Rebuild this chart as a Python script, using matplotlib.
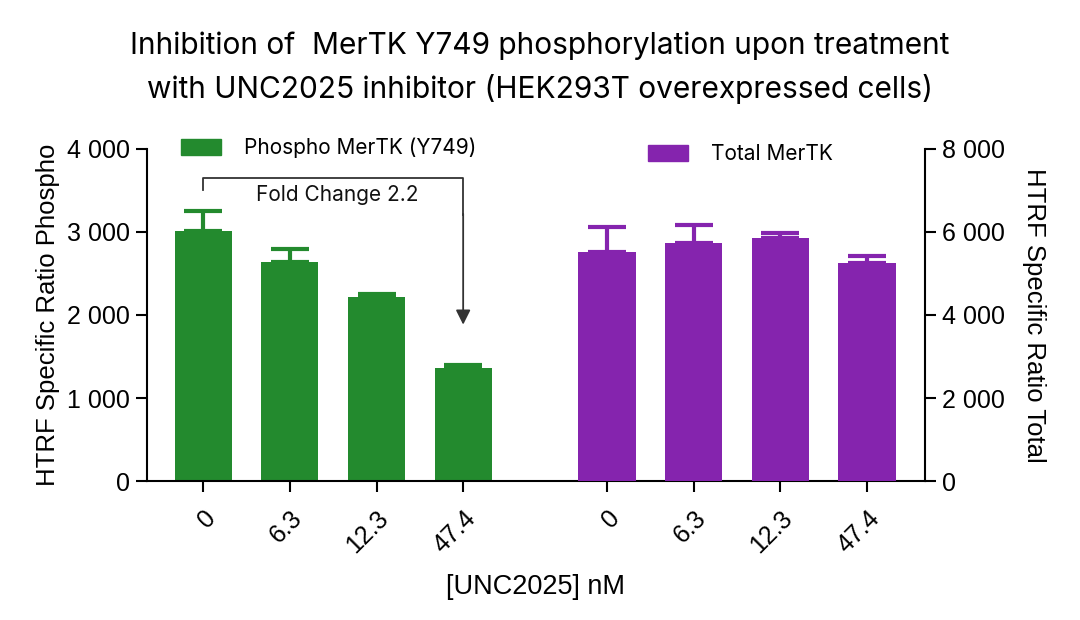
import matplotlib
matplotlib.use("Agg")
from matplotlib import pyplot as plt
from matplotlib.patches import Patch

doses = ["0", "6.3", "12.3", "47.4"]
phospho = [3005, 2635, 2220, 1365]
phospho_err = [250, 160, 32, 36]
total = [5520, 5735, 5850, 5260]
total_err = [590, 420, 120, 160]

green = "#238A2E"
purple = "#8524AE"

plt.rcParams['font.family'] = ['Liberation Sans', 'DejaVu Sans']

fig = plt.figure(figsize=(10.8, 6.2), dpi=100)
ax1 = fig.add_axes([0.136, 0.224, 0.7205, 0.536])
ax2 = ax1.twinx()

x1 = [0, 1, 2, 3]
x2 = [4.66, 5.66, 6.66, 7.66]

ax1.bar(x1, phospho, width=0.66, color=green, zorder=2)
ax1.errorbar(x1, phospho, yerr=[[0] * 4, phospho_err], fmt='none', ecolor=green,
             elinewidth=3, capsize=14, capthick=3, zorder=3)
ax2.bar(x2, total, width=0.66, color=purple, zorder=2)
ax2.errorbar(x2, total, yerr=[[0] * 4, total_err], fmt='none', ecolor=purple,
             elinewidth=3, capsize=14, capthick=3, zorder=3)

ax1.set_xlim(-0.65, 8.33)
ax1.set_ylim(0, 4000)
ax2.set_ylim(0, 8000)
ax1.set_yticks([0, 1000, 2000, 3000, 4000])
ax1.set_yticklabels(["0", "1 000", "2 000", "3 000", "4 000"])
ax2.set_yticks([0, 2000, 4000, 6000, 8000])
ax2.set_yticklabels(["0", "2 000", "4 000", "6 000", "8 000"])
ax1.set_xticks(x1 + x2)
ax1.set_xticklabels(doses + doses, rotation=45, ha='right', va='top',
                    rotation_mode='anchor')

for ax in (ax1, ax2):
    ax.spines['top'].set_visible(False)
    for s in ax.spines.values():
        s.set_linewidth(1.5)
    ax.tick_params(axis='both', length=8, width=1.5, labelsize=18, pad=4)
ax2.spines['left'].set_visible(False)
ax2.spines['bottom'].set_visible(False)
ax1.spines['right'].set_visible(False)
ax1.tick_params(axis='x', pad=10)

ax1.set_ylabel("HTRF Specific Ratio Phospho", fontsize=18.5, labelpad=5)
ax2.set_ylabel("HTRF Specific Ratio Total", fontsize=18.5, rotation=270, labelpad=30)
ax1.set_xlabel("[UNC2025] nM", fontsize=19.5, labelpad=12)

fig.suptitle("Inhibition of  MerTK Y749 phosphorylation upon treatment\n"
             "with UNC2025 inhibitor (HEK293T overexpressed cells)",
             fontsize=21.5, family=['Inter', 'DejaVu Sans'], y=0.95, linespacing=1.6)

# fold change bracket
ax1.plot([0, 0, 3, 3], [3500, 3650, 3650, 3200], color='#333333', lw=1.3, zorder=4)
ax1.annotate("", xy=(3, 1850), xytext=(3, 3250),
             arrowprops=dict(arrowstyle='-|>', color='#333333', lw=1.3,
                             mutation_scale=22))
ax1.text(1.55, 3440, "Fold Change 2.2", ha='center', va='center', fontsize=15,
         family=['Inter', 'DejaVu Sans'], color='#111111')

ax1.legend(handles=[Patch(color=green, label="Phospho MerTK (Y749)")],
           loc='upper left', bbox_to_anchor=(0.02, 1.09), frameon=False,
           prop={'family': ['Inter', 'DejaVu Sans'], 'size': 15},
           handlelength=1.9, handleheight=0.8, handletextpad=1.1)
ax2.legend(handles=[Patch(color=purple, label="Total MerTK")],
           loc='upper left', bbox_to_anchor=(0.62, 1.07), frameon=False,
           prop={'family': ['Inter', 'DejaVu Sans'], 'size': 15},
           handlelength=1.9, handleheight=0.8, handletextpad=1.1)

fig.savefig("out.png", dpi=100)
